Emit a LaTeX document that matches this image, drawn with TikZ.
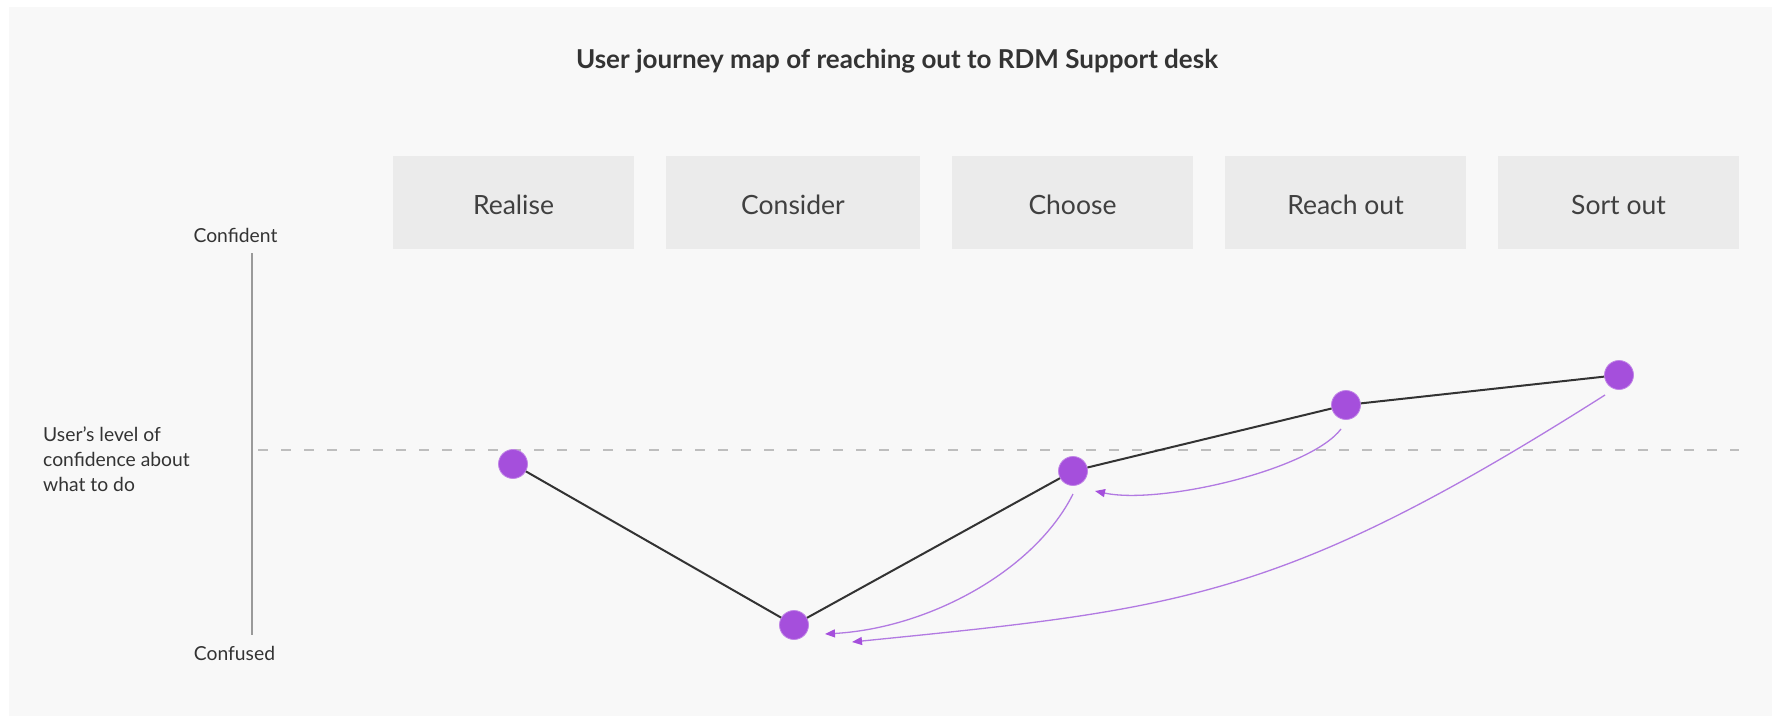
\documentclass[tikz,border=0pt]{standalone}
\usepackage{fontspec}
\setmainfont{Lato}
\usetikzlibrary{arrows.meta,calc}
\definecolor{panel}{HTML}{F8F8F8}
\definecolor{stagefill}{HTML}{EBEBEB}
\definecolor{ink}{HTML}{333333}
\definecolor{stageink}{HTML}{404040}
\definecolor{purp}{HTML}{A54FDC}
\definecolor{purpline}{HTML}{B27AE2}
\definecolor{axisgray}{HTML}{9A9A9A}
\definecolor{dashgray}{HTML}{BEBEBE}
\begin{document}
\begin{tikzpicture}[x=1pt,y=-1pt,
  stagebox/.style={fill=stagefill, draw=none, minimum height=93pt, inner sep=0pt,
    text=stageink, font=\fontsize{26.5}{31}\selectfont, text height=26pt, text depth=2pt},
  dotnode/.style={circle, fill=purp, draw=purp!70!white, line width=0.8pt,
    minimum size=29pt, inner sep=0pt},
  journey/.style={draw=ink, line width=2pt},
  backarrow/.style={draw=purpline, line width=1.3pt,
    -{Triangle[length=10pt,width=8pt,fill=purp,color=purp]}},
  axislabel/.style={text=ink, font=\fontsize{19.3}{24.8}\selectfont, inner sep=0pt}
]
\useasboundingbox (0,0) rectangle (1778,723);
\fill[white] (0,0) rectangle (1778,723);
\fill[panel] (9,7) rectangle (1772,716);

% title
\node[text=ink, font=\fontsize{26}{31}\selectfont\bfseries, inner sep=0pt] (title) at (897,61)
  {User journey map of reaching out to RDM Support desk};

% stages
\node[stagebox, minimum width=241pt] (s1) at (513.5,202.5) {Realise};
\node[stagebox, minimum width=254pt] (s2) at (793,202.5) {Consider};
\node[stagebox, minimum width=241pt] (s3) at (1072.5,202.5) {Choose};
\node[stagebox, minimum width=241pt] (s4) at (1345.5,202.5) {Reach out};
\node[stagebox, minimum width=241pt] (s5) at (1618.5,202.5) {Sort out};

% axis
\node[axislabel] (conf) at (235.5,235) {Confident};
\node[axislabel] (confu) at (234.5,653) {Confused};
\node[axislabel, align=left, anchor=west] (lvl) at (43,459)
  {User’s level of\\confidence about\\what to do};
\coordinate (axtop) at (252,253);
\coordinate (axbot) at (252,635);
\draw[axisgray, line width=1.3pt] (axtop) -- (axbot);
\coordinate (dashL) at (258,450);
\coordinate (dashR) at (1739,450);
\draw[dashgray, line width=2pt, dash pattern=on 10pt off 13pt] (dashL) -- (dashR);

% dots
\node[dotnode] (d1) at (513,464) {};
\node[dotnode] (d2) at (794,625) {};
\node[dotnode] (d3) at (1073,471) {};
\node[dotnode] (d4) at (1346,405) {};
\node[dotnode] (d5) at (1619,375) {};

\draw[journey] (d1) -- (d2) -- (d3) -- (d4) -- (d5);

% back arrows
\draw[backarrow] ($(d4)+(-5,24)$) .. controls (1310,470) and (1160,505) .. ($(d3)+(22,20)$);
\draw[backarrow] ($(d3)+(0,23)$) .. controls (1035,570) and (930,628) .. ($(d2)+(31,9)$);
\draw[backarrow] ($(d5)+(-14,20)$) .. controls (1282,600) and (1180,609) .. ($(d2)+(58,17)$);
\end{tikzpicture}
\end{document}
